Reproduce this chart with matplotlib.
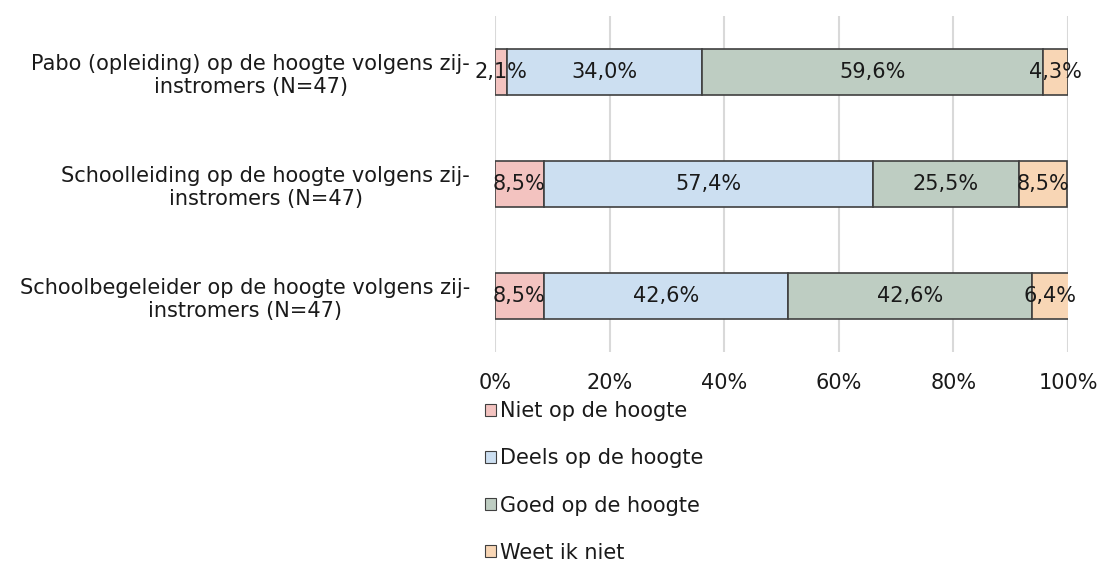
import matplotlib
matplotlib.use("Agg")
import matplotlib.pyplot as plt
import numpy as np
from matplotlib.patches import Patch

categories = [
    "Pabo (opleiding) op de hoogte volgens zij-\ninstromers (N=47)",
    "Schoolleiding op de hoogte volgens zij-\ninstromers (N=47)",
    "Schoolbegeleider op de hoogte volgens zij-\ninstromers (N=47)",
]
series = ["Niet op de hoogte", "Deels op de hoogte", "Goed op de hoogte", "Weet ik niet"]
niet = [2.1, 8.5, 8.5]
deels = [34.0, 57.4, 42.6]
goed = [59.6, 25.5, 42.6]
weet = [4.3, 8.5, 6.4]
colors = ["#F3C3C0", "#CCDFF1", "#BECDC2", "#F8D6B5"]

FS = 15
plt.rcParams['font.family'] = ['DejaVu Sans']
fig = plt.figure(figsize=(11.02, 5.62), dpi=100)
ax = fig.add_axes([495 / 1102, 1 - 352 / 562, 573 / 1102, 336 / 562])

y = np.arange(len(categories))
left = np.zeros(len(categories))
for vals, col in zip([niet, deels, goed, weet], colors):
    vals = np.array(vals)
    ax.barh(y, vals, left=left, height=0.41, color=col, edgecolor="#404040", linewidth=1.2, zorder=3)
    for yi, l, v in zip(y, left, vals):
        ax.text(l + v / 2, yi, f"{v:.1f}%".replace(".", ","), ha="center", va="center",
                fontsize=FS, color="#1a1a1a", zorder=4)
    left += vals

ax.set_xlim(0, 100)
ax.set_ylim(len(categories) - 0.5, -0.5)
ax.set_xticks(np.arange(0, 101, 20))
ax.set_xticklabels([f"{v}%" for v in range(0, 101, 20)], fontsize=FS)
ax.set_yticks(y)
ax.set_yticklabels(categories, fontsize=FS)
for lab in ax.get_yticklabels():
    lab.set_multialignment("center")
ax.tick_params(axis="both", length=0, colors="#1a1a1a")
ax.tick_params(axis="y", pad=18)
ax.tick_params(axis="x", pad=15)
ax.grid(axis="x", color="#D9D9D9", linewidth=1.5, zorder=0)
for s in ax.spines.values():
    s.set_visible(False)

handles = [Patch(facecolor=c, edgecolor="#404040", linewidth=0.8) for c in colors]
fig.legend(handles, series, loc="upper left", bbox_to_anchor=(477 / 1102, 1 - 393 / 562),
           frameon=False, fontsize=FS, handlelength=0.5, handleheight=0.5,
           handletextpad=0.2, labelspacing=1.3, borderaxespad=0, labelcolor="#1a1a1a")

fig.savefig("out.png", dpi=100)
